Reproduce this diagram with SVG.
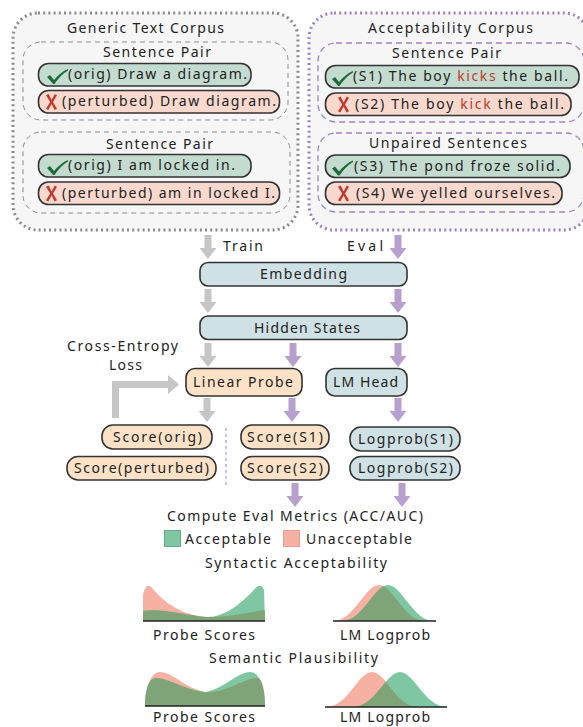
<svg xmlns="http://www.w3.org/2000/svg" xmlns:xlink="http://www.w3.org/1999/xlink" width="583" height="727" viewBox="0 0 583 727">
<style>
text{font-family:"Noto Sans","Open Sans","DejaVu Sans",sans-serif;font-size:14px;fill:#222;}
.outerL{fill:#f6f6f6;stroke:#8a8a8a;stroke-width:3;stroke-dasharray:2 3.2;}
.outerR{fill:#f6f6f6;stroke:#9b82c0;stroke-width:3;stroke-dasharray:2 3.2;}
.innerL{fill:none;stroke:#8c8c8c;stroke-width:1;stroke-dasharray:5 4;}
.innerR{fill:none;stroke:#9b82c0;stroke-width:1.3;stroke-dasharray:6 4;}
.good{fill:#c4dccf;stroke:#333;stroke-width:1.6;}
.bad{fill:#f9d9ce;stroke:#333;stroke-width:1.6;}
.blue{fill:#cfe1e4;stroke:#333;stroke-width:1.6;}
.peach{fill:#fde2c8;stroke:#333;stroke-width:1.6;}
.ga{fill:#c6c6c6;}
.pa{fill:#b7a0cd;}
.chk{fill:#1e6b3a;}
.xx{fill:#c0392b;}
.red{fill:#c0392b;}
.dpink{fill:#f6b1a2;}
.dgreen{fill:#7fc6a2;}
.dolive{fill:#7fa477;}
.base{stroke:#222;stroke-width:1.5;}
</style>
<defs>
<path id="check" d="M0,8 L3,6 L7,11 C11,6 16,2 21,0 L21,1.5 C16,4.5 11,9.5 7.5,15 L6.2,15 Z"/>
<path id="cross" d="M0,1.2 L2.6,0 L5.6,6 L8.8,0 L11,1.2 L7,8 L11,14.8 L8.6,16 L5.6,10 L2.2,16 L0,14.8 L4.2,8 Z"/>
<path id="arr" d="M-3.5,-24 L3.5,-24 L3.5,-11 L8.5,-11 L0,0 L-8.5,-11 L-3.5,-11 Z"/>
<path id="pinkA" d="M143,621 L143,596 C144,587 148,582 153,589 C165,604 185,616 207,617 C230,617 250,612 265,610 L265,621 Z"/>
<path id="greenA" d="M143,621 L143,611 C160,608 185,615 207,617 C225,617 240,604 252,592 C256,587 261,582 264,590 L265,621 Z"/>
<path id="pinkB" d="M333,621 C354,621 365,585 379,585 C393,585 404,621 425,621 Z"/>
<path id="greenB" d="M342,621 C363,621 374,585 388,585 C402,585 413,621 434,621 Z"/>
<path id="pinkC" d="M145,706 C145,690 150,672 160,672 C172,672 185,688 205,692 C225,694 245,678 257,678 C263,678 265,690 265,706 Z"/>
<path id="greenC" d="M145,706 C145,692 148,678 156,678 C168,678 185,690 205,692 C222,690 238,672 250,672 C260,672 265,688 265,706 Z"/>
<path id="pinkD" d="M326,707 C348,707 358,672 372,672 C386,672 396,707 418,707 Z"/>
<path id="greenD" d="M353,707 C375,707 386,672 400,672 C414,672 425,707 447,707 Z"/>
<clipPath id="clA"><use xlink:href="#pinkA"/></clipPath>
<clipPath id="clB"><use xlink:href="#pinkB"/></clipPath>
<clipPath id="clC"><use xlink:href="#pinkC"/></clipPath>
<clipPath id="clD"><use xlink:href="#pinkD"/></clipPath>
</defs>

<g id="generic-corpus">
<rect class="outerL" x="13" y="13" width="285" height="217" rx="25"/>
<text x="67" y="33" textLength="157" lengthAdjust="spacing">Generic Text Corpus</text>
<g id="pair1">
<rect class="innerL" x="23" y="42" width="265" height="78" rx="18"/>
<text x="103" y="57" textLength="108" lengthAdjust="spacing">Sentence Pair</text>
<g id="orig1"><rect class="good" x="38.5" y="63.5" width="212.5" height="22.5" rx="10"/>
<use xlink:href="#check" class="chk" x="47" y="69"/>
<text x="68" y="79" textLength="179" lengthAdjust="spacing">(orig) Draw a diagram.</text></g>
<g id="pert1"><rect class="bad" x="38.5" y="90.5" width="241" height="22.5" rx="10"/>
<use xlink:href="#cross" class="xx" x="46" y="94"/>
<text x="62" y="106" textLength="214" lengthAdjust="spacing">(perturbed) Draw diagram.</text></g>
</g>
<g id="pair2">
<rect class="innerL" x="23" y="132" width="267" height="81" rx="18"/>
<text x="106" y="149" textLength="107" lengthAdjust="spacing">Sentence Pair</text>
<g id="orig2"><rect class="good" x="38.5" y="154.5" width="212.5" height="22.5" rx="10"/>
<use xlink:href="#check" class="chk" x="47" y="160"/>
<text x="68" y="170" textLength="167" lengthAdjust="spacing">(orig) I am locked in.</text></g>
<g id="pert2"><rect class="bad" x="38.5" y="182" width="241" height="22.5" rx="10"/>
<use xlink:href="#cross" class="xx" x="46" y="185.5"/>
<text x="62" y="198" textLength="213" lengthAdjust="spacing">(perturbed) am in locked I.</text></g>
</g>
</g>

<g id="acceptability-corpus">
<rect class="outerR" x="309" y="13" width="280" height="217" rx="25"/>
<text x="368" y="33" textLength="165" lengthAdjust="spacing">Acceptability Corpus</text>
<g id="pair3">
<rect class="innerR" x="318" y="43" width="266" height="79" rx="18"/>
<text x="392" y="58" textLength="109" lengthAdjust="spacing">Sentence Pair</text>
<g id="s1"><rect class="good" x="325.5" y="65.5" width="253.5" height="22.5" rx="10"/>
<use xlink:href="#check" class="chk" x="332" y="71"/>
<text x="353" y="81" textLength="215" lengthAdjust="spacing">(S1) The boy <tspan class="red">kicks</tspan> the ball.</text></g>
<g id="s2"><rect class="bad" x="325.5" y="93" width="245.5" height="22.5" rx="10"/>
<use xlink:href="#cross" class="xx" x="338" y="96.5"/>
<text x="355" y="108.5" textLength="209" lengthAdjust="spacing">(S2) The boy <tspan class="red">kick</tspan> the ball.</text></g>
</g>
<g id="unpaired">
<rect class="innerR" x="318" y="133" width="266" height="79" rx="18"/>
<text x="369" y="148" textLength="158" lengthAdjust="spacing">Unpaired Sentences</text>
<g id="s3"><rect class="good" x="325.5" y="155" width="244.5" height="22.5" rx="10"/>
<use xlink:href="#check" class="chk" x="332" y="160.5"/>
<text x="354" y="170.5" textLength="206" lengthAdjust="spacing">(S3) The pond froze solid.</text></g>
<g id="s4"><rect class="bad" x="325.5" y="182" width="236.5" height="22.5" rx="10"/>
<use xlink:href="#cross" class="xx" x="338" y="185.5"/>
<text x="356" y="197.5" textLength="199" lengthAdjust="spacing">(S4) We yelled ourselves.</text></g>
</g>
</g>

<g id="connectors">
<use xlink:href="#arr" class="ga" x="208" y="259"/>
<use xlink:href="#arr" class="pa" x="398" y="259"/>
<use xlink:href="#arr" class="ga" x="208" y="313"/>
<use xlink:href="#arr" class="pa" x="398" y="313"/>
<use xlink:href="#arr" class="ga" x="208" y="367"/>
<use xlink:href="#arr" class="pa" x="293" y="367"/>
<use xlink:href="#arr" class="pa" x="398" y="367"/>
<use xlink:href="#arr" class="ga" x="207" y="422"/>
<use xlink:href="#arr" class="pa" x="292" y="422"/>
<use xlink:href="#arr" class="pa" x="398" y="422"/>
<use xlink:href="#arr" class="pa" x="295" y="507"/>
<use xlink:href="#arr" class="pa" x="402" y="507"/>
<path class="ga" d="M112,418 L112,381 L168,381 L168,375 L179,384.5 L168,394 L168,388 L119,388 L119,418 Z"/>
<line x1="226" y1="428" x2="226" y2="485" stroke="#9b82c0" stroke-width="1" stroke-dasharray="3 3"/>
</g>

<g id="labels">
<text x="223" y="251" textLength="40" lengthAdjust="spacing">Train</text>
<text x="347" y="251" textLength="36" lengthAdjust="spacing">Eval</text>
<text x="67" y="351" textLength="111" lengthAdjust="spacing">Cross-Entropy</text>
<text x="109" y="369.5" textLength="33" lengthAdjust="spacing">Loss</text>
</g>

<g id="embedding"><rect class="blue" x="200" y="262.5" width="207" height="23.5" rx="8"/>
<text x="260" y="279" textLength="87" lengthAdjust="spacing">Embedding</text></g>
<g id="hidden-states"><rect class="blue" x="200" y="316" width="207" height="23.5" rx="8"/>
<text x="254" y="333" textLength="106" lengthAdjust="spacing">Hidden States</text></g>
<g id="linear-probe"><rect class="peach" x="186" y="368.5" width="116" height="27.5" rx="9"/>
<text x="193" y="387" textLength="100" lengthAdjust="spacing">Linear Probe</text></g>
<g id="lm-head"><rect class="blue" x="326" y="368.5" width="81" height="27.5" rx="9"/>
<text x="333" y="387" textLength="65" lengthAdjust="spacing">LM Head</text></g>

<g id="score-orig"><rect class="peach" x="102" y="425" width="110" height="24" rx="11"/>
<text x="113" y="442" textLength="89" lengthAdjust="spacing">Score(orig)</text></g>
<g id="score-perturbed"><rect class="peach" x="67" y="456.5" width="149" height="23.5" rx="11"/>
<text x="74" y="473" textLength="135" lengthAdjust="spacing">Score(perturbed)</text></g>
<g id="score-s1"><rect class="peach" x="241" y="425" width="88" height="24" rx="11"/>
<text x="247" y="442" textLength="76" lengthAdjust="spacing">Score(S1)</text></g>
<g id="score-s2"><rect class="peach" x="241" y="456.5" width="88" height="23.5" rx="11"/>
<text x="247" y="473" textLength="76" lengthAdjust="spacing">Score(S2)</text></g>
<g id="logprob-s1"><rect class="blue" x="350" y="427" width="110" height="24" rx="11"/>
<text x="358" y="444" textLength="95" lengthAdjust="spacing">Logprob(S1)</text></g>
<g id="logprob-s2"><rect class="blue" x="350" y="456.5" width="110" height="23.5" rx="11"/>
<text x="358" y="473" textLength="95" lengthAdjust="spacing">Logprob(S2)</text></g>

<g id="metrics">
<text x="167" y="521" textLength="256" lengthAdjust="spacing">Compute Eval Metrics (ACC/AUC)</text>
<rect x="164.5" y="530.5" width="16" height="16" fill="#7fc6a2" stroke="#6aa888" stroke-width="1"/>
<text x="185" y="544" textLength="86" lengthAdjust="spacing">Acceptable</text>
<rect x="283.5" y="530.5" width="16" height="16" fill="#f6b1a2" stroke="#eaa090" stroke-width="1"/>
<text x="306" y="544" textLength="106" lengthAdjust="spacing">Unacceptable</text>
<text x="205" y="568" textLength="182" lengthAdjust="spacing">Syntactic Acceptability</text>
<text x="209" y="663" textLength="169" lengthAdjust="spacing">Semantic Plausibility</text>
</g>

<g id="syn-probe">
<use xlink:href="#pinkA" class="dpink"/>
<use xlink:href="#greenA" class="dgreen"/>
<use xlink:href="#greenA" class="dolive" clip-path="url(#clA)"/>
<line class="base" x1="143" y1="621" x2="265" y2="621"/>
<text x="153" y="640" textLength="102" lengthAdjust="spacing">Probe Scores</text>
</g>
<g id="syn-lm">
<use xlink:href="#pinkB" class="dpink"/>
<use xlink:href="#greenB" class="dgreen"/>
<use xlink:href="#greenB" class="dolive" clip-path="url(#clB)"/>
<line class="base" x1="333" y1="621" x2="436" y2="621"/>
<text x="340" y="640" textLength="90" lengthAdjust="spacing">LM Logprob</text>
</g>
<g id="sem-probe">
<use xlink:href="#pinkC" class="dpink"/>
<use xlink:href="#greenC" class="dgreen"/>
<use xlink:href="#greenC" class="dolive" clip-path="url(#clC)"/>
<line class="base" x1="145" y1="706" x2="265" y2="706"/>
<text x="153" y="722" textLength="102" lengthAdjust="spacing">Probe Scores</text>
</g>
<g id="sem-lm">
<use xlink:href="#pinkD" class="dpink"/>
<use xlink:href="#greenD" class="dgreen"/>
<use xlink:href="#greenD" class="dolive" clip-path="url(#clD)"/>
<line class="base" x1="325" y1="707" x2="447" y2="707"/>
<text x="340" y="722" textLength="90" lengthAdjust="spacing">LM Logprob</text>
</g>
</svg>
